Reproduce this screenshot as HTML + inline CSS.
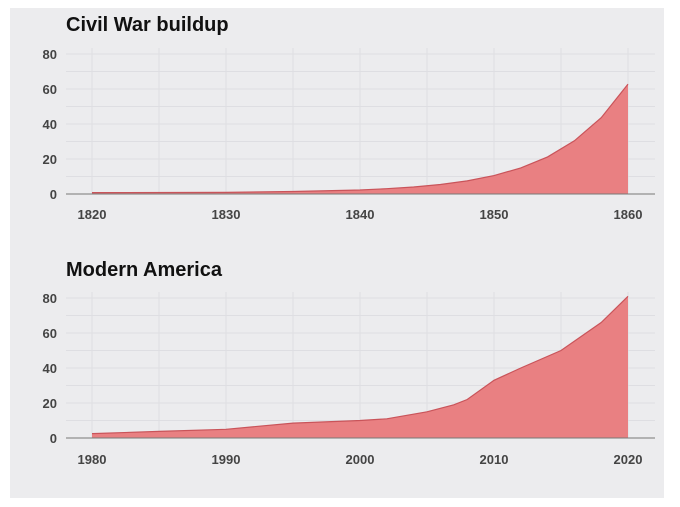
<!DOCTYPE html>
<html><head><style>
body{margin:0;background:#fff;width:680px;height:502px;overflow:hidden}
text{font-family:"Liberation Sans",sans-serif}
</style></head><body>
<svg width="680" height="502" xmlns="http://www.w3.org/2000/svg">
<rect x="10" y="8" width="654" height="490" fill="#ececee"/>
<g stroke="#dedee2" stroke-width="1">
<line x1="66" x2="655" y1="54" y2="54"/><line x1="66" x2="655" y1="71.5" y2="71.5"/><line x1="66" x2="655" y1="89" y2="89"/><line x1="66" x2="655" y1="106.5" y2="106.5"/><line x1="66" x2="655" y1="124" y2="124"/><line x1="66" x2="655" y1="141.5" y2="141.5"/><line x1="66" x2="655" y1="159" y2="159"/><line x1="66" x2="655" y1="176.5" y2="176.5"/>
<line x1="92" x2="92" y1="48" y2="194"/><line x1="159" x2="159" y1="48" y2="194"/><line x1="226" x2="226" y1="48" y2="194"/><line x1="293" x2="293" y1="48" y2="194"/><line x1="360" x2="360" y1="48" y2="194"/><line x1="427" x2="427" y1="48" y2="194"/><line x1="494" x2="494" y1="48" y2="194"/><line x1="561" x2="561" y1="48" y2="194"/><line x1="628" x2="628" y1="48" y2="194"/>
<line x1="66" x2="655" y1="298" y2="298"/><line x1="66" x2="655" y1="315.5" y2="315.5"/><line x1="66" x2="655" y1="333" y2="333"/><line x1="66" x2="655" y1="350.5" y2="350.5"/><line x1="66" x2="655" y1="368" y2="368"/><line x1="66" x2="655" y1="385.5" y2="385.5"/><line x1="66" x2="655" y1="403" y2="403"/><line x1="66" x2="655" y1="420.5" y2="420.5"/>
<line x1="92" x2="92" y1="292" y2="438"/><line x1="159" x2="159" y1="292" y2="438"/><line x1="226" x2="226" y1="292" y2="438"/><line x1="293" x2="293" y1="292" y2="438"/><line x1="360" x2="360" y1="292" y2="438"/><line x1="427" x2="427" y1="292" y2="438"/><line x1="494" x2="494" y1="292" y2="438"/><line x1="561" x2="561" y1="292" y2="438"/><line x1="628" x2="628" y1="292" y2="438"/>
</g>
<path d="M92,194 L92,192.6 L226,192.4 L293,191.5 L360,190 L386.8,188.7 L413.6,187 L440.4,184.5 L467.2,180.9 L494,175.6 L520.8,167.9 L547.6,156.9 L574.4,140.8 L601.2,117.7 L628,84.1 L628,194 Z" fill="#e98082" stroke="none"/>
<polyline points="92,192.6 226,192.4 293,191.5 360,190 386.8,188.7 413.6,187 440.4,184.5 467.2,180.9 494,175.6 520.8,167.9 547.6,156.9 574.4,140.8 601.2,117.7 628,84.1" fill="none" stroke="#c9545a" stroke-width="1.2"/>
<path d="M92,438 L92,433.6 L159,431.4 L226,429.3 L293,423.1 L360,420.5 L386.8,418.8 L427,411.8 L453.8,404.8 L467.2,399.5 L494,380.3 L520.8,368 L561,350.5 L601.2,322.5 L628,296.3 L628,438 Z" fill="#e98082"/>
<polyline points="92,433.6 159,431.4 226,429.3 293,423.1 360,420.5 386.8,418.8 427,411.8 453.8,404.8 467.2,399.5 494,380.3 520.8,368 561,350.5 601.2,322.5 628,296.3" fill="none" stroke="#c9545a" stroke-width="1.2"/>
<line x1="66" x2="655" y1="194" y2="194" stroke="#777" stroke-width="1"/>
<line x1="66" x2="655" y1="438" y2="438" stroke="#777" stroke-width="1"/>
<text x="66" y="31" font-size="20" font-weight="bold" fill="#111">Civil War buildup</text>
<text x="66" y="276" font-size="20" font-weight="bold" fill="#111">Modern America</text>
<g font-size="13" font-weight="bold" fill="#444" text-anchor="end">
<text x="57" y="59">80</text><text x="57" y="94">60</text><text x="57" y="129">40</text><text x="57" y="164">20</text><text x="57" y="199">0</text>
<text x="57" y="303">80</text><text x="57" y="338">60</text><text x="57" y="373">40</text><text x="57" y="408">20</text><text x="57" y="443">0</text>
</g>
<g font-size="13" font-weight="bold" fill="#444" text-anchor="middle">
<text x="92" y="219">1820</text><text x="226" y="219">1830</text><text x="360" y="219">1840</text><text x="494" y="219">1850</text><text x="628" y="219">1860</text>
<text x="92" y="464">1980</text><text x="226" y="464">1990</text><text x="360" y="464">2000</text><text x="494" y="464">2010</text><text x="628" y="464">2020</text>
</g>
</svg>
</body></html>
